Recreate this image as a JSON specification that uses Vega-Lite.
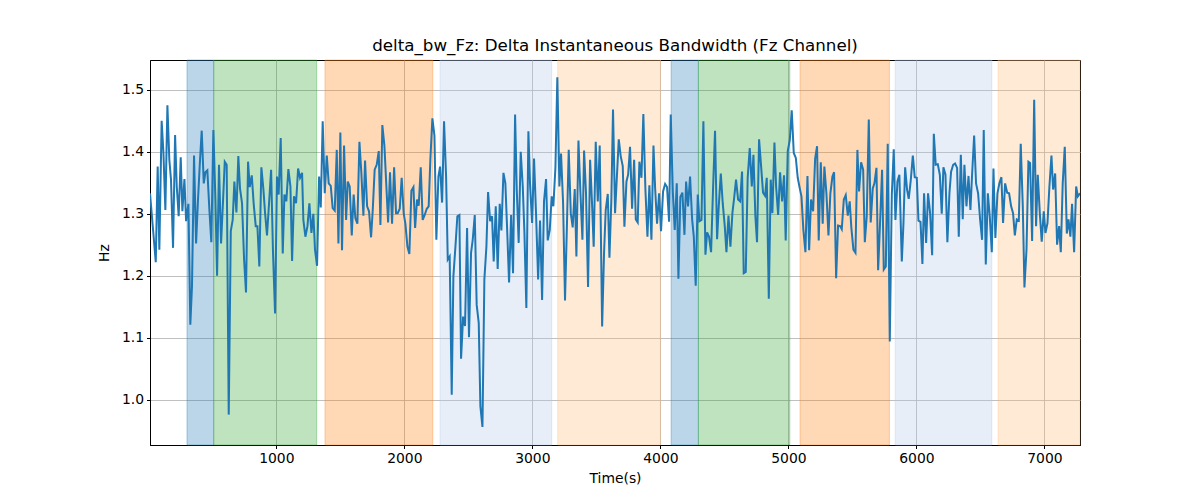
{
  "$schema": "https://vega.github.io/schema/vega-lite/v6.json",
  "description": "delta_bw_Fz over time with shaded phases",
  "autosize": "none",
  "width": 930,
  "height": 385,
  "padding": {"left": 150, "top": 60, "right": 120, "bottom": 55},
  "background": "white",
  "config": {
    "font": "DejaVu Sans",
    "view": {"stroke": "black", "strokeWidth": 1},
    "axis": {
      "grid": true,
      "gridColor": "#b0b0b0",
      "gridWidth": 0.8,
      "domainColor": "black",
      "tickColor": "black",
      "tickSize": 3.5,
      "labelColor": "black",
      "labelFontSize": 13.9,
      "labelFont": "DejaVu Sans",
      "titleFont": "DejaVu Sans",
      "titleFontSize": 13.9,
      "titleFontWeight": "normal",
      "titleColor": "black"
    }
  },
  "title": {
    "text": "delta_bw_Fz: Delta Instantaneous Bandwidth (Fz Channel)",
    "fontSize": 16.7,
    "fontWeight": "normal",
    "font": "DejaVu Sans",
    "color": "black",
    "offset": 5
  },
  "datasets": {
    "bands": [
      {"start": 302, "end": 511, "phase": "p1"},
      {"start": 511, "end": 1315, "phase": "p2"},
      {"start": 1380, "end": 2222, "phase": "p3"},
      {"start": 2279, "end": 3151, "phase": "p4"},
      {"start": 3198, "end": 4000, "phase": "p5"},
      {"start": 4084, "end": 4297, "phase": "p1"},
      {"start": 4297, "end": 5011, "phase": "p2"},
      {"start": 5091, "end": 5789, "phase": "p3"},
      {"start": 5834, "end": 6589, "phase": "p4"},
      {"start": 6638, "end": 7278, "phase": "p5"}
    ],
    "series": [
      {"t":13,"v":1.333},{"t":39,"v":1.269},{"t":58,"v":1.222},{"t":73,"v":1.376},{"t":86,"v":1.242},{"t":104,"v":1.450},{"t":118,"v":1.398},{"t":133,"v":1.306},{"t":149,"v":1.475},{"t":164,"v":1.387},{"t":177,"v":1.355},{"t":193,"v":1.245},{"t":209,"v":1.427},{"t":222,"v":1.344},{"t":237,"v":1.296},{"t":253,"v":1.391},{"t":266,"v":1.304},{"t":282,"v":1.356},{"t":295,"v":1.288},{"t":313,"v":1.316},{"t":328,"v":1.121},{"t":341,"v":1.183},{"t":357,"v":1.394},{"t":373,"v":1.252},{"t":388,"v":1.323},{"t":402,"v":1.380},{"t":417,"v":1.434},{"t":433,"v":1.349},{"t":446,"v":1.367},{"t":461,"v":1.370},{"t":477,"v":1.306},{"t":492,"v":1.254},{"t":508,"v":1.435},{"t":524,"v":1.323},{"t":537,"v":1.200},{"t":552,"v":1.379},{"t":568,"v":1.252},{"t":584,"v":1.323},{"t":597,"v":1.384},{"t":612,"v":1.379},{"t":628,"v":0.976},{"t":644,"v":1.272},{"t":659,"v":1.290},{"t":672,"v":1.352},{"t":688,"v":1.302},{"t":703,"v":1.393},{"t":716,"v":1.341},{"t":732,"v":1.317},{"t":748,"v":1.226},{"t":763,"v":1.173},{"t":779,"v":1.384},{"t":792,"v":1.343},{"t":808,"v":1.362},{"t":823,"v":1.316},{"t":839,"v":1.280},{"t":852,"v":1.280},{"t":867,"v":1.215},{"t":883,"v":1.375},{"t":899,"v":1.339},{"t":912,"v":1.301},{"t":927,"v":1.265},{"t":943,"v":1.317},{"t":959,"v":1.371},{"t":974,"v":1.237},{"t":990,"v":1.139},{"t":1005,"v":1.360},{"t":1018,"v":1.331},{"t":1034,"v":1.422},{"t":1050,"v":1.236},{"t":1063,"v":1.331},{"t":1078,"v":1.320},{"t":1094,"v":1.372},{"t":1110,"v":1.344},{"t":1123,"v":1.224},{"t":1138,"v":1.328},{"t":1154,"v":1.317},{"t":1170,"v":1.373},
      {"t":1185,"v":1.358},{"t":1201,"v":1.366},{"t":1211,"v":1.290},{"t":1227,"v":1.263},{"t":1243,"v":1.280},{"t":1258,"v":1.317},{"t":1274,"v":1.269},{"t":1289,"v":1.300},{"t":1302,"v":1.242},{"t":1318,"v":1.216},{"t":1334,"v":1.360},{"t":1347,"v":1.310},{"t":1362,"v":1.449},{"t":1378,"v":1.333},{"t":1394,"v":1.394},{"t":1409,"v":1.349},{"t":1425,"v":1.345},{"t":1440,"v":1.309},{"t":1456,"v":1.305},{"t":1472,"v":1.403},{"t":1485,"v":1.252},{"t":1500,"v":1.431},{"t":1513,"v":1.241},{"t":1529,"v":1.410},{"t":1545,"v":1.290},{"t":1558,"v":1.352},{"t":1573,"v":1.344},{"t":1589,"v":1.265},{"t":1604,"v":1.331},{"t":1617,"v":1.293},{"t":1633,"v":1.284},{"t":1649,"v":1.416},{"t":1664,"v":1.366},{"t":1680,"v":1.297},{"t":1693,"v":1.386},{"t":1709,"v":1.312},{"t":1724,"v":1.304},{"t":1740,"v":1.262},{"t":1753,"v":1.306},{"t":1768,"v":1.371},{"t":1784,"v":1.379},{"t":1800,"v":1.401},{"t":1813,"v":1.282},{"t":1828,"v":1.443},{"t":1844,"v":1.410},{"t":1857,"v":1.355},{"t":1873,"v":1.286},{"t":1888,"v":1.367},{"t":1904,"v":1.284},{"t":1920,"v":1.375},{"t":1935,"v":1.301},{"t":1948,"v":1.301},{"t":1964,"v":1.308},{"t":1979,"v":1.358},{"t":1995,"v":1.300},{"t":2008,"v":1.284},{"t":2024,"v":1.247},{"t":2039,"v":1.235},{"t":2055,"v":1.337},{"t":2071,"v":1.343},{"t":2084,"v":1.277},{"t":2099,"v":1.323},{"t":2112,"v":1.313},{"t":2128,"v":1.375},{"t":2143,"v":1.290},{"t":2159,"v":1.298},{"t":2175,"v":1.308},{"t":2190,"v":1.312},{"t":2203,"v":1.387},{"t":2219,"v":1.454},{"t":2235,"v":1.426},{"t":2250,"v":1.258},{"t":2266,"v":1.360},{"t":2279,"v":1.376},{"t":2295,"v":1.318},{"t":2310,"v":1.449},{"t":2326,"v":1.360},{"t":2339,"v":1.226},{"t":2354,"v":1.231},
      {"t":2370,"v":1.008},{"t":2383,"v":1.199},{"t":2399,"v":1.247},{"t":2414,"v":1.296},{"t":2430,"v":1.298},{"t":2443,"v":1.066},{"t":2459,"v":1.134},{"t":2474,"v":1.119},{"t":2490,"v":1.277},{"t":2505,"v":1.101},{"t":2521,"v":1.237},{"t":2534,"v":1.258},{"t":2550,"v":1.298},{"t":2565,"v":1.153},{"t":2581,"v":1.124},{"t":2594,"v":0.989},{"t":2610,"v":0.956},{"t":2625,"v":1.194},{"t":2641,"v":1.247},{"t":2654,"v":1.335},{"t":2670,"v":1.288},{"t":2685,"v":1.296},{"t":2698,"v":1.223},{"t":2714,"v":1.312},{"t":2729,"v":1.211},{"t":2745,"v":1.316},{"t":2758,"v":1.273},{"t":2774,"v":1.366},{"t":2789,"v":1.349},{"t":2802,"v":1.280},{"t":2818,"v":1.189},{"t":2834,"v":1.298},{"t":2849,"v":1.204},{"t":2865,"v":1.460},{"t":2878,"v":1.339},{"t":2893,"v":1.253},{"t":2909,"v":1.400},{"t":2925,"v":1.344},{"t":2938,"v":1.269},{"t":2953,"v":1.148},{"t":2969,"v":1.433},{"t":2982,"v":1.347},{"t":2998,"v":1.285},{"t":3013,"v":1.389},{"t":3029,"v":1.298},{"t":3045,"v":1.194},{"t":3060,"v":1.289},{"t":3076,"v":1.161},{"t":3091,"v":1.320},{"t":3107,"v":1.356},{"t":3120,"v":1.257},{"t":3136,"v":1.274},{"t":3151,"v":1.328},{"t":3164,"v":1.312},{"t":3180,"v":1.374},{"t":3195,"v":1.520},{"t":3211,"v":1.344},{"t":3224,"v":1.397},{"t":3240,"v":1.317},{"t":3255,"v":1.160},{"t":3271,"v":1.290},{"t":3284,"v":1.403},{"t":3300,"v":1.301},{"t":3315,"v":1.278},{"t":3331,"v":1.340},{"t":3344,"v":1.231},{"t":3360,"v":1.418},{"t":3375,"v":1.336},{"t":3391,"v":1.258},{"t":3404,"v":1.402},{"t":3419,"v":1.333},{"t":3435,"v":1.182},{"t":3451,"v":1.387},{"t":3466,"v":1.317},{"t":3479,"v":1.247},{"t":3495,"v":1.416},{"t":3511,"v":1.320},{"t":3526,"v":1.410},
      {"t":3545,"v":1.118},{"t":3560,"v":1.237},{"t":3573,"v":1.306},{"t":3589,"v":1.332},{"t":3602,"v":1.229},{"t":3617,"v":1.323},{"t":3630,"v":1.468},{"t":3646,"v":1.301},{"t":3659,"v":1.355},{"t":3675,"v":1.420},{"t":3690,"v":1.393},{"t":3706,"v":1.377},{"t":3719,"v":1.279},{"t":3735,"v":1.352},{"t":3748,"v":1.363},{"t":3763,"v":1.408},{"t":3779,"v":1.308},{"t":3795,"v":1.387},{"t":3808,"v":1.291},{"t":3823,"v":1.286},{"t":3836,"v":1.384},{"t":3852,"v":1.358},{"t":3867,"v":1.461},{"t":3883,"v":1.339},{"t":3899,"v":1.263},{"t":3914,"v":1.346},{"t":3930,"v":1.258},{"t":3946,"v":1.410},{"t":3959,"v":1.341},{"t":3974,"v":1.284},{"t":3990,"v":1.333},{"t":4005,"v":1.272},{"t":4021,"v":1.336},{"t":4037,"v":1.348},{"t":4052,"v":1.343},{"t":4068,"v":1.287},{"t":4081,"v":1.460},{"t":4097,"v":1.336},{"t":4112,"v":1.274},{"t":4128,"v":1.349},{"t":4141,"v":1.195},{"t":4156,"v":1.327},{"t":4172,"v":1.334},{"t":4188,"v":1.266},{"t":4201,"v":1.352},{"t":4216,"v":1.312},{"t":4232,"v":1.360},{"t":4248,"v":1.291},{"t":4261,"v":1.263},{"t":4276,"v":1.184},{"t":4292,"v":1.331},{"t":4305,"v":1.288},{"t":4321,"v":1.290},{"t":4336,"v":1.449},{"t":4352,"v":1.234},{"t":4365,"v":1.270},{"t":4380,"v":1.263},{"t":4396,"v":1.238},{"t":4412,"v":1.344},{"t":4427,"v":1.434},{"t":4443,"v":1.259},{"t":4456,"v":1.312},{"t":4472,"v":1.365},{"t":4487,"v":1.317},{"t":4503,"v":1.280},{"t":4516,"v":1.238},{"t":4532,"v":1.297},{"t":4547,"v":1.247},{"t":4563,"v":1.302},{"t":4576,"v":1.325},{"t":4591,"v":1.355},{"t":4607,"v":1.323},{"t":4623,"v":1.320},{"t":4638,"v":1.368},{"t":4651,"v":1.204},{"t":4667,"v":1.206},{"t":4682,"v":1.358},{"t":4698,"v":1.406},
      {"t":4714,"v":1.344},{"t":4727,"v":1.395},{"t":4742,"v":1.296},{"t":4755,"v":1.254},{"t":4771,"v":1.420},{"t":4787,"v":1.376},{"t":4802,"v":1.334},{"t":4818,"v":1.329},{"t":4831,"v":1.358},{"t":4847,"v":1.163},{"t":4862,"v":1.355},{"t":4875,"v":1.301},{"t":4891,"v":1.415},{"t":4904,"v":1.344},{"t":4920,"v":1.298},{"t":4935,"v":1.367},{"t":4951,"v":1.320},{"t":4966,"v":1.362},{"t":4979,"v":1.257},{"t":4995,"v":1.401},{"t":5011,"v":1.419},{"t":5026,"v":1.467},{"t":5042,"v":1.398},{"t":5058,"v":1.390},{"t":5073,"v":1.358},{"t":5089,"v":1.341},{"t":5102,"v":1.328},{"t":5117,"v":1.274},{"t":5133,"v":1.238},{"t":5149,"v":1.361},{"t":5162,"v":1.241},{"t":5177,"v":1.323},{"t":5193,"v":1.304},{"t":5209,"v":1.389},{"t":5224,"v":1.409},{"t":5237,"v":1.257},{"t":5253,"v":1.383},{"t":5268,"v":1.284},{"t":5281,"v":1.376},{"t":5297,"v":1.333},{"t":5313,"v":1.265},{"t":5328,"v":1.333},{"t":5344,"v":1.360},{"t":5357,"v":1.367},{"t":5373,"v":1.196},{"t":5388,"v":1.281},{"t":5404,"v":1.280},{"t":5417,"v":1.275},{"t":5433,"v":1.323},{"t":5448,"v":1.330},{"t":5464,"v":1.297},{"t":5479,"v":1.320},{"t":5492,"v":1.277},{"t":5508,"v":1.242},{"t":5524,"v":1.237},{"t":5539,"v":1.403},{"t":5552,"v":1.336},{"t":5568,"v":1.383},{"t":5584,"v":1.371},{"t":5597,"v":1.254},{"t":5612,"v":1.296},{"t":5628,"v":1.452},{"t":5643,"v":1.286},{"t":5659,"v":1.341},{"t":5672,"v":1.349},{"t":5688,"v":1.374},{"t":5701,"v":1.209},{"t":5716,"v":1.285},{"t":5732,"v":1.371},{"t":5745,"v":1.210},{"t":5761,"v":1.215},{"t":5776,"v":1.413},{"t":5792,"v":1.094},{"t":5808,"v":1.331},{"t":5823,"v":1.404},{"t":5836,"v":1.290},{"t":5852,"v":1.352},{"t":5867,"v":1.363},
      {"t":5886,"v":1.223},{"t":5899,"v":1.285},{"t":5912,"v":1.375},{"t":5927,"v":1.339},{"t":5940,"v":1.324},{"t":5956,"v":1.354},{"t":5972,"v":1.394},{"t":5987,"v":1.359},{"t":6003,"v":1.358},{"t":6016,"v":1.289},{"t":6032,"v":1.287},{"t":6047,"v":1.219},{"t":6060,"v":1.333},{"t":6076,"v":1.253},{"t":6091,"v":1.333},{"t":6107,"v":1.301},{"t":6123,"v":1.233},{"t":6136,"v":1.429},{"t":6151,"v":1.379},{"t":6167,"v":1.380},{"t":6183,"v":1.363},{"t":6198,"v":1.300},{"t":6211,"v":1.375},{"t":6227,"v":1.363},{"t":6242,"v":1.254},{"t":6258,"v":1.333},{"t":6271,"v":1.368},{"t":6287,"v":1.379},{"t":6302,"v":1.381},{"t":6318,"v":1.374},{"t":6331,"v":1.263},{"t":6347,"v":1.395},{"t":6362,"v":1.291},{"t":6375,"v":1.379},{"t":6391,"v":1.312},{"t":6407,"v":1.361},{"t":6422,"v":1.306},{"t":6435,"v":1.363},{"t":6451,"v":1.426},{"t":6466,"v":1.349},{"t":6482,"v":1.333},{"t":6498,"v":1.290},{"t":6513,"v":1.258},{"t":6526,"v":1.435},{"t":6542,"v":1.218},{"t":6558,"v":1.333},{"t":6573,"v":1.296},{"t":6589,"v":1.238},{"t":6602,"v":1.373},{"t":6617,"v":1.261},{"t":6633,"v":1.333},{"t":6649,"v":1.350},{"t":6664,"v":1.359},{"t":6677,"v":1.285},{"t":6693,"v":1.349},{"t":6709,"v":1.334},{"t":6724,"v":1.333},{"t":6740,"v":1.312},{"t":6755,"v":1.301},{"t":6769,"v":1.265},{"t":6784,"v":1.291},{"t":6800,"v":1.289},{"t":6815,"v":1.413},{"t":6831,"v":1.312},{"t":6844,"v":1.181},{"t":6860,"v":1.242},{"t":6875,"v":1.384},{"t":6888,"v":1.382},{"t":6904,"v":1.256},{"t":6920,"v":1.484},{"t":6935,"v":1.280},{"t":6948,"v":1.363},{"t":6964,"v":1.301},{"t":6979,"v":1.255},{"t":6995,"v":1.304},{"t":7008,"v":1.269},{"t":7024,"v":1.285},{"t":7039,"v":1.344},{"t":7055,"v":1.394},{"t":7068,"v":1.339},{"t":7084,"v":1.365},{"t":7099,"v":1.250},{"t":7115,"v":1.280},{"t":7128,"v":1.238},{"t":7143,"v":1.349},{"t":7159,"v":1.408},{"t":7175,"v":1.268},{"t":7188,"v":1.291},{"t":7203,"v":1.263},{"t":7216,"v":1.316},{"t":7232,"v":1.238},{"t":7248,"v":1.344},{"t":7261,"v":1.328},{"t":7278,"v":1.333}
    ]
  },
  "layer": [
    {
      "data": {"name": "bands"},
      "mark": {"type": "rect", "fillOpacity": 0.3, "strokeOpacity": 0.35, "strokeWidth": 1},
      "encoding": {
        "x": {
          "field": "start",
          "type": "quantitative",
          "scale": {"domain": [13, 7278], "nice": false, "zero": false},
          "axis": {"values": [1000, 2000, 3000, 4000, 5000, 6000, 7000], "format": "d", "title": "Time(s)", "titlePadding": 6, "labelPadding": 3}
        },
        "x2": {"field": "end"},
        "color": {
          "field": "phase",
          "type": "nominal",
          "scale": {"domain": ["p1", "p2", "p3", "p4", "p5"], "range": ["#1f77b4", "#2ca02c", "#ff7f0e", "#aec7e8", "#ffbb78"]},
          "legend": null
        },
        "stroke": {
          "field": "phase",
          "type": "nominal",
          "scale": {"domain": ["p1", "p2", "p3", "p4", "p5"], "range": ["#1f77b4", "#2ca02c", "#ff7f0e", "#aec7e8", "#ffbb78"]},
          "legend": null
        }
      }
    },
    {
      "data": {"name": "series"},
      "mark": {"type": "line", "color": "#1f77b4", "strokeWidth": 2, "clip": true},
      "encoding": {
        "x": {"field": "t", "type": "quantitative"},
        "y": {
          "field": "v",
          "type": "quantitative",
          "scale": {"domain": [0.927, 1.548], "nice": false, "zero": false},
          "axis": {"values": [1.0, 1.1, 1.2, 1.3, 1.4, 1.5], "format": ".1f", "title": "Hz", "titlePadding": 10, "labelPadding": 3}
        }
      }
    }
  ]
}
